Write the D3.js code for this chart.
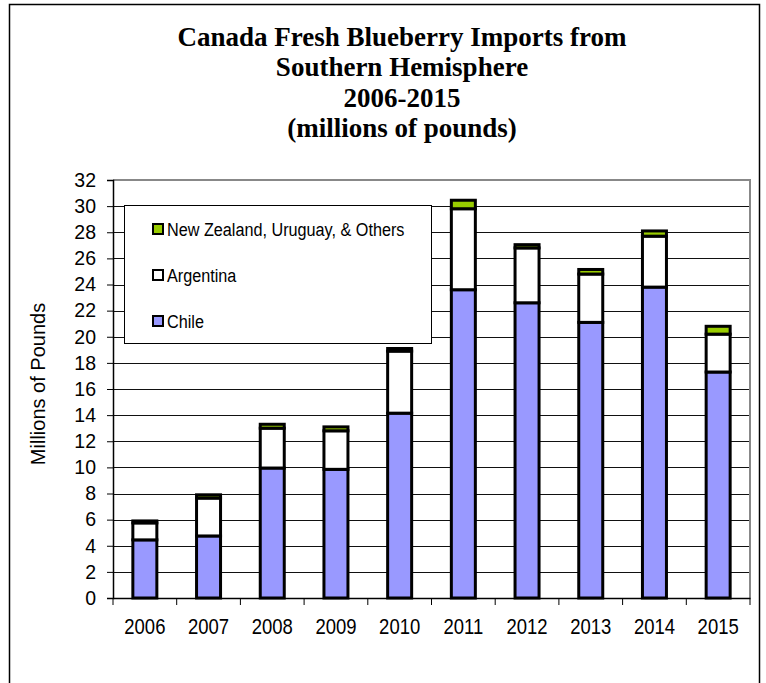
<!DOCTYPE html>
<html>
<head>
<meta charset="utf-8">
<script src="https://cdn.jsdelivr.net/npm/d3@7"></script>
<style>
  body { margin: 0; background: #fff; }
  svg { display: block; }
</style>
</head>
<body>
<div id="chart"></div>
<script>
const years = ["2006", "2007", "2008", "2009", "2010", "2011", "2012", "2013", "2014", "2015"];
const chile = [4.45, 4.75, 9.95, 9.85, 14.15, 23.6, 22.6, 21.1, 23.8, 17.3];
const argentina = [1.3, 2.9, 3.05, 2.95, 4.75, 6.2, 4.2, 3.7, 3.9, 2.9];
const others = [0.15, 0.25, 0.3, 0.3, 0.2, 0.65, 0.25, 0.35, 0.4, 0.6];
const seriesNames = ["Chile", "Argentina", "New Zealand, Uruguay, & Others"];
const yTicks = d3.range(0, 33, 2);
const titleLines = ["Canada Fresh Blueberry Imports from", "Southern Hemisphere", "2006-2015", "(millions of pounds)"];

const COLORS = ["#9999FF", "#FFFFFF", "#99CC00"];
const W = 766, H = 683;
const sans = "'Liberation Sans', Arial, sans-serif";

// no Arial Narrow here, so squeeze regular sans horizontally
function narrowText(sel, k) {
  sel.each(function() {
    const w = this.getComputedTextLength();
    d3.select(this).attr("textLength", w * k).attr("lengthAdjust", "spacingAndGlyphs");
  });
}

const svg = d3.select("#chart").append("svg").attr("width", W).attr("height", H);

// outer frame
svg.append("rect")
  .attr("x", 9.5).attr("y", 4.5).attr("width", 750).attr("height", 700)
  .attr("fill", "none").attr("stroke", "#000").attr("stroke-width", 1.5);

// title
svg.append("g").selectAll("text")
  .data(titleLines).enter().append("text")
  .attr("x", 402)
  .attr("y", (d, i) => 46 + i * 30.3)
  .attr("text-anchor", "middle")
  .attr("font-family", "'Liberation Serif', 'Times New Roman', serif")
  .attr("font-weight", "bold")
  .attr("font-size", "27px")
  .text(d => d);

const plotL = 113, plotR = 750, plotT = 180, plotB = 598;

const x = d3.scaleBand().domain(years).range([plotL, plotR]).padding(0);
const y = d3.scaleLinear().domain([0, 32]).range([plotB, plotT]);

// gridlines
svg.append("g").selectAll("line")
  .data(yTicks.filter(t => t > 0 && t < 32)).enter().append("line")
  .attr("x1", plotL).attr("x2", plotR)
  .attr("y1", d => Math.round(y(d)) + 0.5).attr("y2", d => Math.round(y(d)) + 0.5)
  .attr("stroke", "#111").attr("stroke-width", 1);

// plot border top/right (grey)
svg.append("path")
  .attr("d", `M${plotL},${plotT}H${plotR}V${plotB}`)
  .attr("fill", "none").attr("stroke", "#888").attr("stroke-width", 2);

// stacked bars
const rows = years.map((yr, i) => ({ x: yr, chile: chile[i], argentina: argentina[i], others: others[i] }));
const stack = d3.stack().keys(["chile", "argentina", "others"])(rows);
const barW = 24;

svg.append("g").selectAll("g")
  .data(stack).enter().append("g")
  .attr("fill", (d, i) => COLORS[i])
  .selectAll("rect")
  .data(d => d).enter().append("rect")
  .attr("x", d => x(d.data.x) + x.bandwidth() / 2 - barW / 2)
  .attr("y", d => y(d[1]))
  .attr("width", barW)
  .attr("height", d => y(d[0]) - y(d[1]))
  .attr("stroke", "#000")
  .attr("stroke-width", 3);

// y axis
const yAxis = svg.append("g")
  .attr("transform", `translate(${plotL},0)`)
  .call(d3.axisLeft(y).tickValues(yTicks).tickSize(6).tickPadding(11).tickFormat(d3.format("d")));
yAxis.select(".domain").attr("stroke", "#000").attr("stroke-width", 1.5);
yAxis.selectAll(".tick line").attr("stroke", "#000");
yAxis.selectAll("text").attr("font-family", sans).attr("font-size", "19.5px").attr("fill", "#000");

// x axis
const xAxis = svg.append("g")
  .attr("transform", `translate(0,${plotB})`)
  .call(d3.axisBottom(x).tickSize(0).tickPadding(20));
xAxis.select(".domain").attr("stroke", "#000").attr("stroke-width", 1.5);
xAxis.selectAll("text").attr("font-family", sans).attr("font-size", "22px").attr("fill", "#000")
  .call(narrowText, 0.84);
xAxis.selectAll(".bound")
  .data(years.map(d => x(d)).concat([plotR])).enter().append("line")
  .attr("x1", d => d).attr("x2", d => d)
  .attr("y1", 0).attr("y2", 7)
  .attr("stroke", "#000").attr("stroke-width", 1);

// y axis title
svg.append("text")
  .attr("transform", "translate(45,384) rotate(-90)")
  .attr("text-anchor", "middle")
  .attr("font-family", sans)
  .attr("font-size", "20px")
  .text("Millions of Pounds");

// legend
const lg = svg.append("g");
lg.append("rect")
  .attr("x", 124.5).attr("y", 205.5).attr("width", 307).attr("height", 138)
  .attr("fill", "#fff").attr("stroke", "#000").attr("stroke-width", 1);
const legendItems = [2, 1, 0].map(i => ({ name: seriesNames[i], color: COLORS[i] }));
const li = lg.selectAll(".item").data(legendItems).enter().append("g")
  .attr("transform", (d, i) => `translate(153,${229 + i * 46})`);
li.append("rect")
  .attr("x", 0).attr("y", -5).attr("width", 10).attr("height", 10)
  .attr("fill", d => d.color).attr("stroke", "#000").attr("stroke-width", 2);
li.append("text")
  .attr("x", 14).attr("y", 6.5)
  .attr("font-family", sans)
  .attr("font-size", "18px")
  .text(d => d.name)
  .call(narrowText, 0.9);
</script>
</body>
</html>
